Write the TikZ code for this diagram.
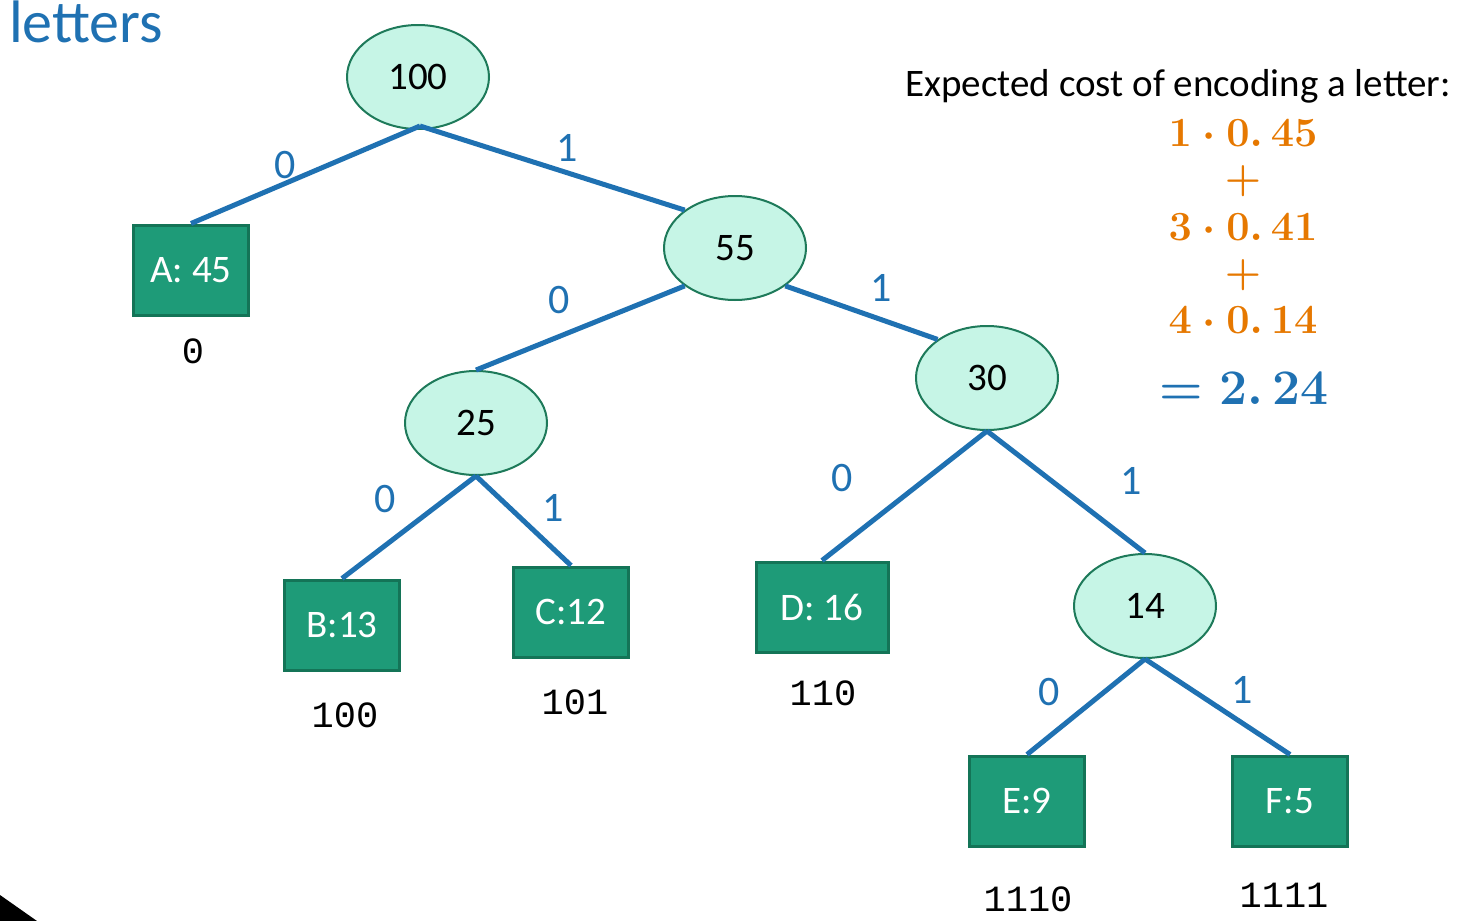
\documentclass[tikz,border=0pt]{standalone}
\usepackage[no-math]{fontspec}
\setmainfont{Carlito}
\newfontfamily\codefont{Liberation Mono}
\usetikzlibrary{shapes.geometric}
\definecolor{edgeblue}{RGB}{31,113,178}
\definecolor{leafgreen}{RGB}{30,155,120}
\definecolor{leafborder}{RGB}{20,116,87}
\definecolor{innerfill}{RGB}{198,245,230}
\definecolor{innerborder}{RGB}{30,122,90}
\definecolor{formulaorange}{RGB}{230,120,0}
\tikzset{
  inner/.style={ellipse, draw=innerborder, line width=1pt, fill=innerfill, minimum width=71pt, minimum height=52pt, inner sep=0pt, font=\fontsize{19.5}{22}\selectfont},
  leaf/.style={rectangle, draw=leafborder, line width=1.5pt, fill=leafgreen, text=white, minimum width=57.5pt, minimum height=45pt, inner sep=0pt, font=\fontsize{19.5}{22}\selectfont},
  tedge/.style={draw=edgeblue, line width=2.5pt},
  elabel/.style={text=edgeblue, font=\fontsize{21}{24}\selectfont},
  code/.style={font=\codefont\fontsize{18.5}{22}\selectfont},
  orng/.style={text=formulaorange, font=\fontsize{20}{24}\selectfont\boldmath}
}
\begin{document}
\begin{tikzpicture}[x=0.5pt,y=-0.5pt]
\useasboundingbox (0,0) rectangle (1468,921);
\fill[black] (0,895) -- (37,921) -- (0,921) -- cycle;
\node[anchor=west, text=edgeblue, font=\fontsize{30}{34}\selectfont] (title) at (2,22) {letters};

\node[inner] (n100) at (418,77) {100};
\node[inner] (n55) at (735,248) {55};
\node[inner] (n30) at (987,378) {30};
\node[inner] (n25) at (476,423) {25};
\node[inner] (n14) at (1145,606) {14};

\node[leaf] (A) at (191,270) {A: 45};
\node[leaf] (B) at (342,625) {B:13};
\node[leaf] (C) at (571,612) {C:12};
\node[leaf, minimum width=66pt] (D) at (822,607) {D: 16};
\node[leaf] (E) at (1027,801) {E:9};
\node[leaf] (F) at (1290,801) {F:5};

\coordinate (r100) at ([xshift=1pt,yshift=2pt]n100.south);
\draw[tedge] (r100) -- (A.north);
\draw[tedge] (r100) -- (n55.143);
\draw[tedge] (n55.217) -- (n25.north);
\draw[tedge] (n55.323) -- (n30.142);
\draw[tedge] (n25.south) -- (B.north);
\draw[tedge] (n25.south) -- (C.north);
\draw[tedge] (n30.south) -- (D.north);
\draw[tedge] (n30.south) -- (n14.north);
\draw[tedge] (n14.south) -- (E.north);
\draw[tedge] (n14.south) -- (F.north);

\node[elabel] (l1) at (285,165) {0};
\node[elabel] (l2) at (567,148) {1};
\node[elabel] (l3) at (559,300) {0};
\node[elabel] (l4) at (881,288) {1};
\node[elabel] (l5) at (385,499) {0};
\node[elabel] (l6) at (553,508) {1};
\node[elabel] (l7) at (842,478) {0};
\node[elabel] (l8) at (1131,481) {1};
\node[elabel] (l9) at (1049,692) {0};
\node[elabel] (l10) at (1242,690) {1};

\node[code] (cA) at (193,351) {0};
\node[code] (cB) at (345,715) {100};
\node[code] (cC) at (575,702) {101};
\node[code] (cD) at (823,693) {110};
\node[code] (cE) at (1028,899) {1110};
\node[code] (cF) at (1284,895) {1111};

\node[anchor=east, font=\fontsize{19.5}{22}\selectfont] (exp) at (1458,86) {Expected cost of encoding a letter:};
\node[orng] (f1) at (1243,133) {$1\cdot 0.\,45$};
\node[orng] (p1) at (1243,181) {$+$};
\node[orng] (f2) at (1243,227) {$3\cdot 0.\,41$};
\node[orng] (p2) at (1243,275) {$+$};
\node[orng] (f3) at (1243,320) {$4\cdot 0.\,14$};
\node[text=edgeblue, font=\fontsize{27}{32}\selectfont\boldmath] (res) at (1244,388) {$=2.\,24$};
\end{tikzpicture}
\end{document}
